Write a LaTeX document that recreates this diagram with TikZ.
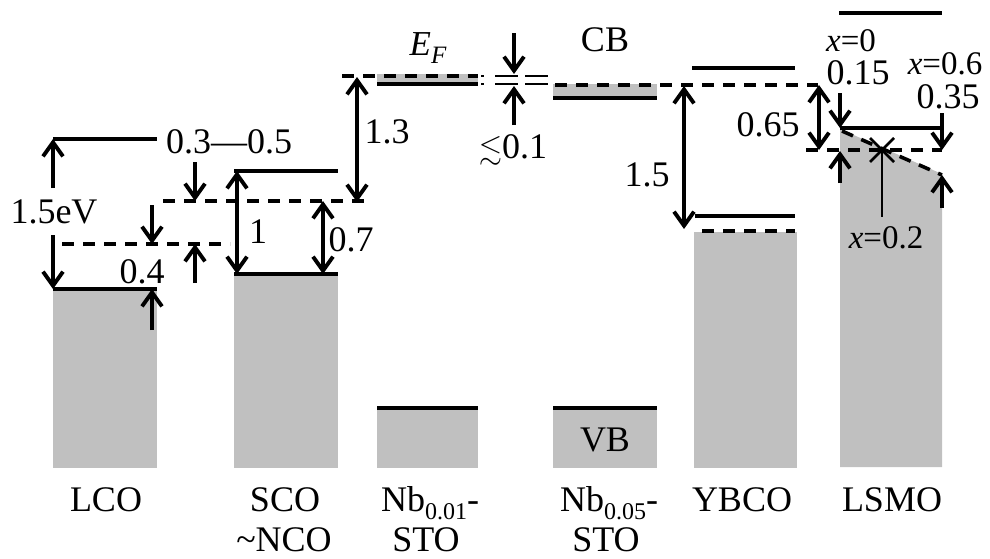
\documentclass[tikz,border=0pt]{standalone}
\usepackage{amssymb}
\usepackage{fontspec}
\setmainfont{Liberation Serif}
\usetikzlibrary{arrows.meta}
\definecolor{bandgray}{RGB}{192,192,192}
\begin{document}
\begin{tikzpicture}[x=1pt,y=-1pt,
  lw/.style={line width=3.9pt},
  dsh/.style={line width=3.6pt, dash pattern=on 12pt off 9pt},
  thinln/.style={line width=2.6pt},
  arr/.style={lw,-{Straight Barb[length=14pt,width=20pt]}},
  darr/.style={lw,{Straight Barb[length=14pt,width=20pt]}-{Straight Barb[length=14pt,width=20pt]}},
  lab/.style={inner sep=0pt,font=\fontsize{36}{42}\selectfont},
  slab/.style={inner sep=0pt,font=\fontsize{33}{38}\selectfont},
  band/.style={fill=bandgray,draw=none}]
\useasboundingbox (0,0) rectangle (990,558);
% ---------- LCO ----------
\fill[band] (53,289) rectangle (157,468);
\draw[lw] (53,289) -- (157,289);
\draw[lw] (53,139) -- (157,139);
\draw[dsh] (62,244) -- (230,244);
\draw[arr] (53,188) -- (53,139);
\draw[arr] (53,235) -- (53,289);
\node[lab] (l15) at (54,212) {1.5eV};
\node[lab] (l04) at (142,272) {0.4};
\draw[arr] (152,205) -- (152,244);
\draw[arr] (152,330) -- (152,289);
% ---------- SCO ----------
\fill[band] (234,274) rectangle (338,468);
\draw[lw] (234,274) -- (338,274);
\draw[lw] (234,171) -- (338,171);
\draw[dsh] (163,201) -- (372,201);
\draw[arr] (195,162) -- (195,201);
\draw[arr] (195,283) -- (195,244);
\node[lab] (l0305) at (229,142) {0.3—0.5};
\draw[darr] (237,171) -- (237,274);
\node[lab] (l1) at (258,232) {1};
\draw[darr] (323,201) -- (323,274);
\node[lab] (l07) at (351,240) {0.7};
\draw[darr] (357,77) -- (357,202);
\node[lab] (l13) at (387,132) {1.3};
% ---------- Nb0.01-STO ----------
\fill[band] (377,74) rectangle (478,83);
\draw[dsh] (342,76) -- (478,76);
\draw[lw] (377,84) -- (478,84);
\node[inner sep=0pt] (ef) at (428,48) {\fontsize{35}{38}\selectfont\itshape E\raisebox{-8pt}{\fontsize{25}{26}\selectfont F}};
\fill[band] (377,408) rectangle (478,468);
\draw[lw] (377,408) -- (478,408);
% ---------- gap ----------
\foreach \yy in {76,84} {
  \draw[thinln] (481,\yy) -- (484,\yy) (495,\yy) -- (518,\yy) (525,\yy) -- (548,\yy);
}
\draw[arr] (514,33) -- (514,74);
\draw[arr] (514,125) -- (514,86);
\node[lab] (l01) at (513,150) {{\fontsize{30}{32}\selectfont$\lesssim$}0.1};
% ---------- Nb0.05-STO ----------
\fill[band] (553,84) rectangle (657,99);
\draw[dsh] (555,85) -- (818,85);
\draw[lw] (553,98) -- (657,98);
\node[lab] (cb) at (605,40) {CB};
\fill[band] (553,408) rectangle (657,468);
\draw[lw] (553,408) -- (657,408);
\node[lab] (vb) at (605,440) {VB};
% ---------- YBCO ----------
\draw[lw] (692,68) -- (795,68);
\draw[darr] (684,86) -- (684,229);
\node[lab] (l15b) at (647,175) {1.5};
\draw[lw] (695,216) -- (795,216);
\fill[band] (694,232) rectangle (797,468);
\draw[dsh] (702,231) -- (795,231);
% ---------- LSMO ----------
\draw[lw] (839,13) -- (942,13);
\fill[band] (840,129) -- (942,174) -- (942,467) -- (840,467) -- cycle;
\draw[lw] (840,128) -- (942,128);
\draw[dsh] (806,150) -- (942,150);
\draw[dsh] (842,131) -- (942,175);
\draw[darr] (819,85) -- (819,150);
\node[lab] (l065) at (768,125) {0.65};
\draw[arr] (840,93) -- (840,128);
\draw[arr] (840,183) -- (840,151);
\draw[arr] (942,113) -- (942,150);
\draw[arr] (942,208) -- (942,175);
\draw[thinln] (870,138) -- (894,162) (870,162) -- (894,138);
\draw[thinln] (882,150) -- (882,217);
\node[slab] (x0) at (851,41) {\textit{x}=0};
\node[lab] (l015) at (858,73) {0.15};
\node[slab] (x06) at (945,64) {\textit{x}=0.6};
\node[lab] (l035) at (948,97) {0.35};
\node[slab] (x02) at (886,238) {\textit{x}=0.2};
% ---------- bottom labels ----------
\node[lab,anchor=base] (lco) at (106,511) {LCO};
\node[lab,anchor=base] (sco) at (285,511) {SCO};
\node[lab,anchor=base] (nco) at (284,551) {\textasciitilde NCO};
\node[lab,anchor=base west] (nb1) at (381,511) {Nb\raisebox{-8pt}{\fontsize{24}{26}\selectfont 0.01}-};
\node[lab,anchor=base] (sto1) at (426,551) {STO};
\node[lab,anchor=base west] (nb5) at (560,511) {Nb\raisebox{-8pt}{\fontsize{24}{26}\selectfont 0.05}-};
\node[lab,anchor=base] (sto5) at (606,551) {STO};
\node[lab,anchor=base] (ybco) at (742,511) {YBCO};
\node[lab,anchor=base] (lsmo) at (892,511) {LSMO};
\end{tikzpicture}
\end{document}
